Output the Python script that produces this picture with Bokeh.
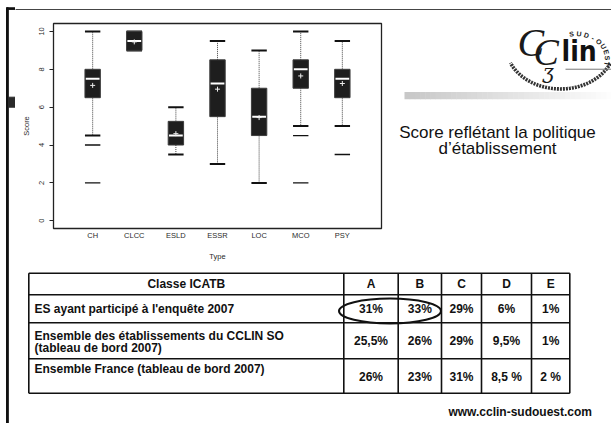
import numpy as np
from bokeh.plotting import figure
from bokeh.models import Range1d, FactorRange, FixedTicker
from bokeh.layouts import row, column
from bokeh.core.properties import value
from bokeh.embed import file_html
from bokeh.resources import INLINE

# ---------------- data ----------------
types = ["CH", "CLCC", "ESLD", "ESSR", "LOC", "MCO", "PSY"]
q1 = [6.5, 9.0, 4.0, 5.5, 4.5, 7.0, 6.5]
q3 = [8.0, 10.0, 5.25, 8.5, 7.0, 8.5, 8.0]
medians = [7.5, 9.5, 4.5, 7.25, 5.5, 8.0, 7.5]
means = [7.15, 9.45, 4.6, 6.95, 5.45, 7.65, 7.25]
whisk_lo = [4.5, 9.0, 3.5, 3.0, 2.0, 5.0, 5.0]
whisk_hi = [10.0, 10.0, 6.0, 9.5, 9.0, 10.0, 9.5]
outlier_type = ["CH", "CH", "MCO", "MCO", "PSY"]
outlier_val = [4.0, 2.0, 4.5, 2.0, 3.5]
y_ticks = [0, 2, 4, 6, 8, 10]

title_lines = ["Score reflétant la politique", "d\u2019établissement"]
table_header = "Classe ICATB"
classes = ["A", "B", "C", "D", "E"]
row_labels = [
    ["ES ayant participé à l'enquête 2007"],
    ["Ensemble des établissements du CCLIN SO", "(tableau de bord 2007)"],
    ["Ensemble France (tableau de bord 2007)"],
]
row_values = [
    ["31%", "33%", "29%", "6%", "1%"],
    ["25,5%", "26%", "29%", "9,5%", "1%"],
    ["26%", "23%", "31%", "8,5 %", "2 %"],
]
footer = "www.cclin-sudouest.com"
logo_ring = "SUD-OUEST"

FONT = value("Liberation Sans")


def blank(w, h, xr, yr):
    p = figure(width=w, height=h, x_range=Range1d(*xr), y_range=Range1d(*yr),
               x_axis_location=None, y_axis_location=None, toolbar_location=None,
               output_backend="svg", min_border=0, outline_line_color=None,
               background_fill_color="white", border_fill_color="white")
    p.grid.visible = False
    return p


# ---------------- left strip (slide frame + bullet) ----------------
strip = blank(15, 423, (0, 15), (423, 0))
strip.quad(left=[6], right=[7.8], top=[7.3], bottom=[423], color="#111111")
strip.quad(left=[6], right=[15], top=[7.3], bottom=[8.9], color="#111111")
strip.quad(left=[8], right=[14.7], top=[96.7], bottom=[106.7], color="#2a2a2a")

# ---------------- top frame line ----------------
topline = blank(596, 10, (15, 611), (10, 0))
topline.quad(left=[15], right=[611], top=[7.3], bottom=[8.9], color="#111111")

# ---------------- box plot ----------------
bp = figure(width=380, height=260, x_range=FactorRange(factors=types, range_padding=0.126),
            y_range=Range1d(-0.41, 10.42), toolbar_location=None, output_backend="svg",
            min_border_left=38, min_border_right=14, min_border_top=13, min_border_bottom=42,
            background_fill_color="white", border_fill_color="white",
            outline_line_color="#222222", outline_line_width=1.3)
bp.grid.visible = False
bw = 0.37
bp.segment(x0=types, y0=q3, x1=types, y1=whisk_hi, line_color="#444444", line_dash="1 1", line_width=1)
bp.segment(x0=types, y0=q1, x1=types, y1=whisk_lo, line_color="#444444", line_dash="1 1", line_width=1)
bp.rect(x=types, y=whisk_hi, width=bw, height=2, height_units="screen", fill_color="#111111", line_color=None)
bp.rect(x=types, y=whisk_lo, width=bw, height=2, height_units="screen", fill_color="#111111", line_color=None)
bp.vbar(x=types, bottom=q1, top=q3, width=bw, fill_color="#1e1e1e", line_color="#3c3c3c", line_width=1)
bp.rect(x=types, y=medians, width=0.33, height=2, height_units="screen", fill_color="white", line_color=None)
bp.scatter(x=types, y=means, marker="cross", size=5, line_color="#eeeeee", line_width=1)
bp.rect(x=outlier_type, y=outlier_val, width=bw, height=1.3, height_units="screen",
        fill_color="#111111", line_color=None)

bp.yaxis.ticker = FixedTicker(ticks=y_ticks)
bp.yaxis.minor_tick_line_color = None
bp.yaxis.major_tick_out = 4
bp.yaxis.major_tick_in = 0
bp.yaxis.major_tick_line_color = "#222222"
bp.yaxis.axis_line_color = None
bp.yaxis.major_label_orientation = "vertical"
bp.yaxis.major_label_standoff = 5
bp.yaxis.axis_label = "Score"
bp.yaxis.axis_label_standoff = 6
bp.xaxis.major_tick_line_color = None
bp.xaxis.major_tick_out = 0
bp.xaxis.axis_line_color = None
bp.xaxis.major_label_standoff = 2
bp.xaxis.axis_label = "Type"
bp.xaxis.axis_label_standoff = 9
for ax in (bp.xaxis, bp.yaxis):
    ax.major_label_text_font = "Liberation Sans"
    ax.major_label_text_font_size = "7.5px"
    ax.major_label_text_color = "#2a2a2a"
    ax.axis_label_text_font = "Liberation Sans"
    ax.axis_label_text_font_size = "7.5px"
    ax.axis_label_text_font_style = "normal"
    ax.axis_label_text_color = "#2a2a2a"

# ---------------- right panel (logo + title) ----------------
rp = blank(216, 260, (395, 611), (270, 10))
# gradient bar
n = 40
xs = np.linspace(404, 611, n + 1)
cols = []
for i in range(n):
    g = int(200 + (253 - 200) * i / (n - 1))
    cols.append("#%02x%02x%02x" % (g, g, g))
rp.quad(left=xs[:-1], right=xs[1:] + 0.5, top=[97] * n, bottom=[106] * n, fill_color=cols, line_color=None)
# title
rp.text(x=[497, 497], y=[148, 168], text=title_lines, text_font=FONT, text_font_size="17px",
        text_align="center", text_baseline="middle", text_color="#111111")
# logo: lower seal band
t = np.radians(np.linspace(24, 157, 80))
rp.line(560 + 54.4 * np.cos(t), 38.6 + 54.4 * np.sin(t), line_color="#333333", line_width=3.6, line_dash="2 1")
# logo: rule under "lin"
rp.segment(x0=[565], y0=[68], x1=[611], y1=[68], line_color="#777777", line_width=1)
# logo: letters
rp.text(x=[517], y=[34], text=["C"], text_font=value("Liberation Serif"), text_font_style="italic",
        text_font_size="40px", text_color="#1a1a1a", text_baseline="middle")
rp.text(x=[533], y=[46], text=["C"], text_font=value("Liberation Serif"), text_font_style="italic",
        text_font_size="38px", text_color="#1a1a1a", text_baseline="middle")
rp.text(x=[542], y=[72], text=["\u0292"], text_font=value("DejaVu Serif"), text_font_style="italic",
        text_font_size="20px", text_color="#1a1a1a", text_baseline="middle")
rp.text(x=[561], y=[46], text=["lin"], text_font=value("'Liberation Sans Narrow', 'DejaVu Sans Condensed', 'Liberation Sans'"),
        text_font_style="bold", text_font_size="28px", text_color="#111111", text_baseline="middle")
th = np.radians(np.linspace(97, -11, len(logo_ring)))
rp.text(x=575 + 32 * np.cos(th), y=55 - 32 * np.sin(th), text=list(logo_ring), angle=th - np.pi / 2,
        text_font=FONT, text_font_style="bold", text_font_size="7px", text_color="#222222",
        text_align="center", text_baseline="middle")

# ---------------- table ----------------
tb = blank(596, 153, (15, 611), (423, 270))
col_x = [28.3, 343.3, 397.7, 441, 481, 531, 569.3]
row_y = [272.7, 294.3, 322.3, 358.3, 392.7]
tb.segment(x0=col_x, y0=[row_y[0]] * len(col_x), x1=col_x, y1=[row_y[-1]] * len(col_x),
           line_color="#111111", line_width=1.6)
tb.segment(x0=[col_x[0]] * len(row_y), y0=row_y, x1=[col_x[-1]] * len(row_y), y1=row_y,
           line_color="#111111", line_width=1.6)
txt = dict(text_font=FONT, text_font_style="bold", text_font_size="12px", text_color="#111111")
centers = [(col_x[i] + col_x[i + 1]) / 2 for i in range(len(col_x) - 1)]
tb.text(x=centers, y=[283.5] * 6, text=[table_header] + classes,
        text_align="center", text_baseline="middle", **txt)
val_y = [308.3, 340, 376]
label_y = [[308.3], [335, 347], [368]]
lx, ly, lt = [], [], []
for labs, ys in zip(row_labels, label_y):
    for s, yy in zip(labs, ys):
        lx.append(34)
        ly.append(yy)
        lt.append(s)
tb.text(x=lx, y=ly, text=lt, text_align="left", text_baseline="middle", **txt)
vx, vy, vt = [], [], []
for vals, yy in zip(row_values, val_y):
    for c, s in zip(centers[1:], vals):
        vx.append(c)
        vy.append(yy)
        vt.append(s)
tb.text(x=vx, y=vy, text=vt, text_align="center", text_baseline="middle", **txt)
tb.ellipse(x=[389.5], y=[310.5], width=102, height=25, fill_color=None, line_color="#111111", line_width=2)
tb.text(x=[591.5], y=[411], text=[footer], text_align="right", text_baseline="middle",
        text_font=FONT, text_font_style="bold", text_font_size="12px", text_color="#111111")

layout = row(strip, column(topline, row(bp, rp), tb))
open("out.html", "w").write(file_html(layout, INLINE))
